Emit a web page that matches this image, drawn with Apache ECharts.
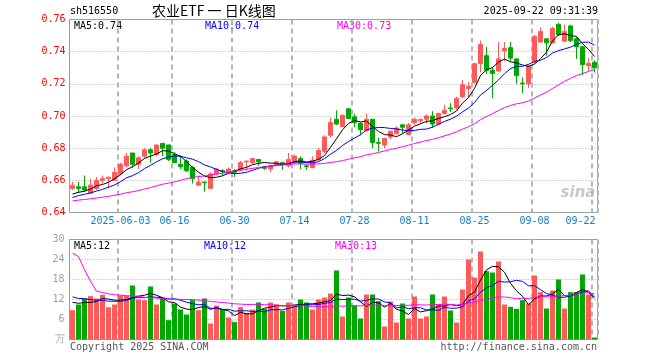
<!DOCTYPE html>
<html><head><meta charset="utf-8">
<script src="https://cdn.jsdelivr.net/npm/echarts@6/dist/echarts.min.js"></script>
<style>html,body{margin:0;padding:0;background:#fff}#c{width:660px;height:360px}</style>
</head><body><div id="c"></div>
<script>
const dates = [
'2025-05-21','2025-05-22','2025-05-23','2025-05-26','2025-05-27','2025-05-28','2025-05-29','2025-05-30',
'2025-06-03','2025-06-04','2025-06-05','2025-06-06','2025-06-09','2025-06-10','2025-06-11','2025-06-12','2025-06-13','2025-06-16','2025-06-17','2025-06-18','2025-06-19','2025-06-20','2025-06-23','2025-06-24','2025-06-25','2025-06-26','2025-06-27','2025-06-30',
'2025-07-01','2025-07-02','2025-07-03','2025-07-04','2025-07-07','2025-07-08','2025-07-09','2025-07-10','2025-07-11','2025-07-14','2025-07-15','2025-07-16','2025-07-17','2025-07-18','2025-07-21','2025-07-22','2025-07-23','2025-07-24','2025-07-25','2025-07-28','2025-07-29','2025-07-30','2025-07-31',
'2025-08-01','2025-08-04','2025-08-05','2025-08-06','2025-08-07','2025-08-08','2025-08-11','2025-08-12','2025-08-13','2025-08-14','2025-08-15','2025-08-18','2025-08-19','2025-08-20','2025-08-21','2025-08-22','2025-08-25','2025-08-26','2025-08-27','2025-08-28','2025-08-29',
'2025-09-01','2025-09-02','2025-09-03','2025-09-04','2025-09-05','2025-09-08','2025-09-09','2025-09-10','2025-09-11','2025-09-12','2025-09-15','2025-09-16','2025-09-17','2025-09-18','2025-09-19','2025-09-22'];

const openP = [0.655,0.656,0.656,0.652,0.655,0.660,0.661,0.660,0.664,0.669,0.677,0.670,0.675,0.679,0.676,0.683,0.682,0.676,0.670,0.672,0.668,0.657,0.659,0.655,0.664,0.666,0.665,0.666,0.667,0.6715,0.671,0.673,0.668,0.667,0.6695,0.671,0.669,0.671,0.6735,0.669,0.668,0.673,0.678,0.688,0.698,0.6935,0.7045,0.6995,0.6955,0.691,0.698,0.6835,0.682,0.687,0.689,0.6945,0.6885,0.696,0.697,0.698,0.700,0.695,0.7015,0.705,0.705,0.712,0.717,0.721,0.7325,0.7375,0.7285,0.728,0.7405,0.7425,0.7355,0.7205,0.720,0.7335,0.746,0.748,0.7455,0.757,0.7465,0.756,0.748,0.743,0.7312,0.7333];
const closeP = [0.657,0.655,0.654,0.657,0.660,0.661,0.662,0.665,0.670,0.675,0.670,0.674,0.679,0.677,0.682,0.680,0.673,0.671,0.6685,0.666,0.661,0.659,0.6585,0.664,0.667,0.6655,0.667,0.665,0.671,0.672,0.6735,0.6715,0.6675,0.669,0.6715,0.670,0.673,0.675,0.6705,0.6685,0.6725,0.6785,0.687,0.696,0.695,0.7005,0.6985,0.696,0.6915,0.698,0.6835,0.683,0.686,0.6905,0.6925,0.693,0.6945,0.698,0.6978,0.700,0.695,0.7015,0.7035,0.7045,0.711,0.7195,0.7185,0.7325,0.7445,0.7285,0.7265,0.7355,0.742,0.736,0.725,0.720,0.731,0.7495,0.7525,0.7455,0.7545,0.7505,0.7525,0.747,0.743,0.732,0.7327,0.730];
const highP = [0.659,0.659,0.663,0.661,0.662,0.663,0.662,0.668,0.671,0.677,0.677,0.675,0.680,0.680,0.682,0.683,0.682,0.6775,0.6755,0.673,0.669,0.663,0.659,0.665,0.6675,0.667,0.668,0.667,0.672,0.672,0.674,0.673,0.669,0.669,0.672,0.6715,0.677,0.676,0.675,0.670,0.675,0.680,0.688,0.699,0.7035,0.701,0.705,0.7015,0.696,0.7015,0.698,0.6865,0.6865,0.691,0.6935,0.6948,0.6955,0.699,0.6985,0.701,0.703,0.702,0.707,0.708,0.712,0.7225,0.721,0.733,0.747,0.743,0.7305,0.746,0.746,0.746,0.736,0.724,0.732,0.7505,0.755,0.748,0.7555,0.758,0.757,0.7567,0.749,0.7436,0.736,0.7347];
const lowP = [0.654,0.652,0.653,0.652,0.654,0.658,0.655,0.660,0.663,0.668,0.668,0.667,0.674,0.671,0.675,0.675,0.672,0.671,0.667,0.665,0.658,0.6565,0.653,0.6545,0.663,0.663,0.664,0.662,0.666,0.666,0.670,0.669,0.6665,0.665,0.669,0.6665,0.668,0.670,0.667,0.6665,0.6675,0.672,0.677,0.6865,0.6945,0.693,0.698,0.693,0.688,0.690,0.680,0.678,0.680,0.6855,0.6885,0.689,0.688,0.6945,0.6955,0.6955,0.6925,0.694,0.701,0.7025,0.704,0.711,0.711,0.720,0.727,0.726,0.711,0.7275,0.734,0.734,0.720,0.714,0.7175,0.7325,0.7455,0.7375,0.745,0.7498,0.746,0.746,0.7355,0.7255,0.728,0.727];
const volume = [8.8,10.5,12.3,13.0,12.3,13.4,9.7,10.5,13.2,13.2,16.2,12.0,11.8,15.9,10.5,12.5,5.8,10.8,9.0,7.5,11.8,8.8,12.3,4.8,10.2,9.0,6.6,5.2,9.7,8.0,9.0,11.1,9.2,11.1,10.5,8.6,11.1,10.4,12.0,11.1,9.0,12.0,12.6,13.8,
20.7,6.9,12.6,10.1,6.3,13.5,13.5,11.5,3.9,11.4,5.1,10.8,6.3,12.9,6.3,6.9,13.5,10.5,12.9,8.7,5.1,15.0,24.0,18.6,26.4,20.5,20.1,23.4,10.5,9.8,9.2,11.8,10.8,19.2,14.2,9.3,14.7,18.0,9.3,14.2,14.2,19.5,13.5,0.6];
// sessions before the visible window (not drawn; they only feed the moving averages)
const priorClose = [0.640,0.642,0.645,0.646,0.645,0.646,0.645,0.648,0.650,0.651,0.652,0.651,0.650,0.649,0.650,0.651,0.650,0.638,0.636,0.638,0.643,0.646,0.648,0.649,0.650,0.649,0.651,0.650,0.650];
const priorVolume = [40,130,118,100,26,22,19,16,20,17,15,21,18,16,16,12,10,11,9,12,15,13,16,14,14,12,11,13,11];
const xTickDates = ['2025-06-03','2025-06-16','2025-06-30','2025-07-14','2025-07-28','2025-08-11','2025-08-25','2025-09-08','2025-09-22'];

function movingAvg(prior, values, n) {
  const all = prior.concat(values), off = prior.length;
  return values.map((_, i) => {
    const end = off + i, start = end - n + 1;
    if (start < 0) return null;
    let s = 0; for (let k = start; k <= end; k++) s += all[k];
    return +(s / n).toFixed(5);
  });
}
const ma5 = movingAvg(priorClose, closeP, 5), ma10 = movingAvg(priorClose, closeP, 10), ma30 = movingAvg(priorClose, closeP, 30);
const vma5 = movingAvg(priorVolume, volume, 5), vma10 = movingAvg(priorVolume, volume, 10), vma30 = movingAvg(priorVolume, volume, 30);
const last = dates.length - 1;
const UP = '#ff5a5a', DOWN = '#00a800';
const MONO = "'DejaVu Sans Mono', monospace";
const kData = dates.map((d, i) => [openP[i], closeP[i], lowP[i], highP[i]]);
const vData = volume.map((v, i) => ({ value: v, itemStyle: { color: closeP[i] >= openP[i] ? UP : DOWN } }));

const chart = echarts.init(document.getElementById('c'), null, { renderer: 'canvas' });
const gridBorder = '#999';
const vSplit = { show: true, interval: (i) => xTickDates.indexOf(dates[i]) >= 0, lineStyle: { color: '#b4b4b4', width: 2, type: [5, 4] } };
const hSplit = { show: true, lineStyle: { color: '#aaa', width: 1, type: [1, 2] } };
const txt = (x, y, text, fill, align, font) => ({ type: 'text', x, y, silent: true,
  style: { text, fill, font: font || ('10px ' + MONO), textAlign: align || 'left', textVerticalAlign: 'middle' } });

chart.setOption({
  animation: false,
  backgroundColor: '#fff',
  grid: [
    { left: 69.5, top: 19.5, width: 528, height: 193, show: true, borderColor: gridBorder, borderWidth: 1, backgroundColor: 'transparent' },
    { left: 69.5, top: 239.5, width: 528, height: 100, show: true, borderColor: gridBorder, borderWidth: 1, backgroundColor: 'transparent' }
  ],
  xAxis: [
    { type: 'category', gridIndex: 0, data: dates, boundaryGap: true,
      axisLine: { show: false }, axisTick: { show: false }, splitLine: vSplit,
      axisLabel: { show: true, margin: 4, color: '#0a80d0', fontSize: 10, fontFamily: MONO,
        interval: (i) => xTickDates.indexOf(dates[i]) >= 0,
        formatter: (v, i) => v === xTickDates[0] ? v : (v === xTickDates[xTickDates.length - 1] ? '{r|' + v.slice(5) + '}' : v.slice(5)),
        rich: { r: { color: '#0a80d0', fontSize: 10, fontFamily: MONO, padding: [0, 28, 0, 0] } } } },
    { type: 'category', gridIndex: 1, data: dates, boundaryGap: true,
      axisLine: { show: false }, axisTick: { show: false }, axisLabel: { show: false }, splitLine: vSplit }
  ],
  yAxis: [
    { type: 'value', gridIndex: 0, min: 0.64, max: 0.76, interval: 0.02, scale: true,
      axisLine: { show: false }, axisTick: { show: false }, splitLine: hSplit,
      axisLabel: { color: '#ff0000', fontSize: 10, fontFamily: MONO, margin: 4, formatter: (v) => v.toFixed(2) } },
    { type: 'value', gridIndex: 1, min: 0, max: 30, interval: 6,
      axisLine: { show: false }, axisTick: { show: false }, splitLine: hSplit,
      axisLabel: { color: '#a0a0a0', fontSize: 10, fontFamily: MONO, margin: 5, formatter: (v) => v === 0 ? '万' : String(v) } }
  ],
  series: [
    { type: 'candlestick', xAxisIndex: 0, yAxisIndex: 0, data: kData, barWidth: 4,
      itemStyle: { color: UP, color0: DOWN, borderColor: UP, borderColor0: DOWN, borderWidth: 1 } },
    { type: 'line', xAxisIndex: 0, yAxisIndex: 0, data: ma5, symbol: 'none', lineStyle: { color: '#000', width: 1 } },
    { type: 'line', xAxisIndex: 0, yAxisIndex: 0, data: ma10, symbol: 'none', lineStyle: { color: '#0000ff', width: 1 } },
    { type: 'line', xAxisIndex: 0, yAxisIndex: 0, data: ma30, symbol: 'none', lineStyle: { color: '#ff00ff', width: 1 } },
    { type: 'bar', xAxisIndex: 1, yAxisIndex: 1, data: vData, barWidth: 5 },
    { type: 'line', xAxisIndex: 1, yAxisIndex: 1, data: vma5, symbol: 'none', lineStyle: { color: '#000', width: 1 } },
    { type: 'line', xAxisIndex: 1, yAxisIndex: 1, data: vma10, symbol: 'none', lineStyle: { color: '#0000ff', width: 1 } },
    { type: 'line', xAxisIndex: 1, yAxisIndex: 1, data: vma30, symbol: 'none', lineStyle: { color: '#ff00ff', width: 1 } }
  ],
  graphic: [
    txt(70, 11, 'sh516550', '#000'),
    txt(152, 11, '农业ETF 一 日K线图', '#000', 'left', "14px 'Noto Sans CJK SC'"),
    txt(598, 11, '2025-09-22 09:31:39', '#000', 'right'),
    txt(74, 26, 'MA5:' + ma5[last].toFixed(2), '#000'),
    txt(205, 26, 'MA10:' + ma10[last].toFixed(2), '#0000ff'),
    txt(337, 26, 'MA30:' + ma30[last].toFixed(2), '#ff00ff'),
    txt(74, 246, 'MA5:' + Math.floor(vma5[last]), '#000'),
    txt(204, 246, 'MA10:' + Math.floor(vma10[last]), '#0000ff'),
    txt(335, 246, 'MA30:' + Math.floor(vma30[last]), '#ff00ff'),
    txt(70, 347, 'Copyright 2025 SINA.COM', '#555'),
    txt(597, 347, 'http://finance.sina.com.cn', '#555', 'right'),
    txt(578, 193, 'sina', '#c8c8c8', 'center', "italic bold 15px 'DejaVu Sans'")
  ]
});
</script></body></html>
